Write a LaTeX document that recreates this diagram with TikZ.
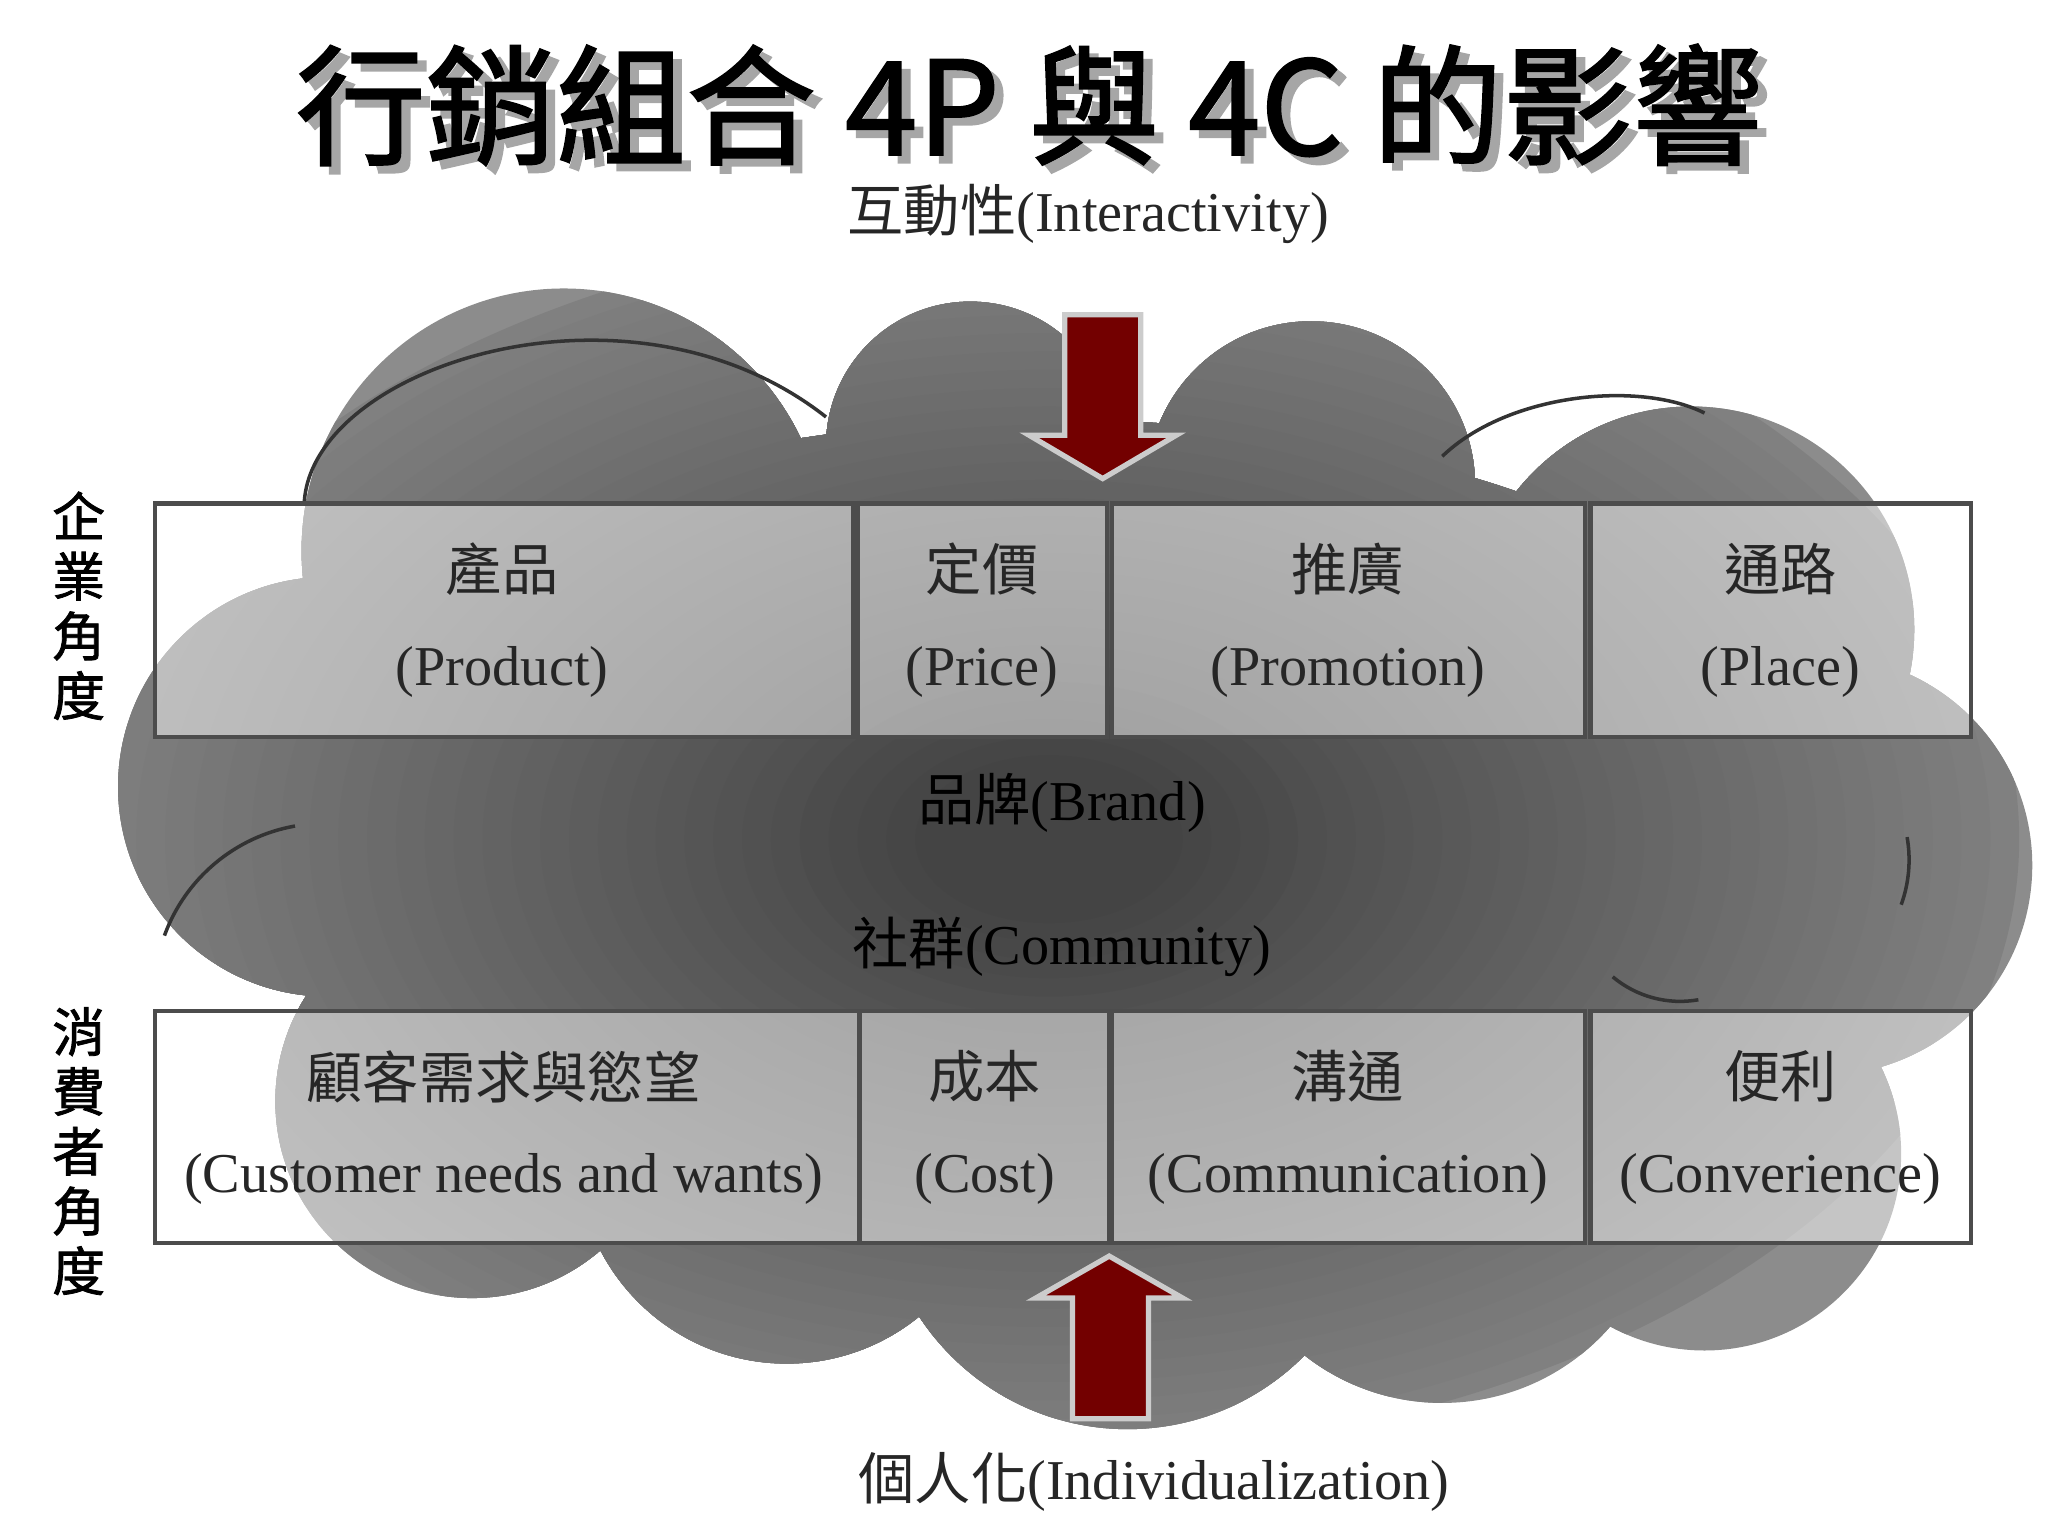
\documentclass[tikz,border=0pt]{standalone}
\usepackage{fontspec}
\setmainfont{Liberation Serif}
\newfontfamily\cjk{Noto Sans CJK TC}
\newfontfamily\cjkb{Noto Sans CJK TC}[FakeBold=1.5]
\usetikzlibrary{fit}
\begin{document}
\begin{tikzpicture}[x=0.01311cm,y=-0.01311cm,
  cell/.style={draw=black!70,line width=1.2pt,fill=white,fill opacity=0.5,inner sep=0pt},
  lbl/.style={font=\fontsize{16}{27}\selectfont,align=center,text=black!85},
  side/.style={font=\cjkb\fontsize{15}{17}\selectfont,align=center},
  arr/.style={fill=red!45!black,draw=black!20,line width=1.5pt}]
\useasboundingbox (0,0) rectangle (1562,1171.6);
% cloud
\def\bumps{(430,420) circle (200) (740,340) circle (110) (1000,370) circle (125)
 (1290,480) circle (170) (1390,660) circle (160) (1300,880) circle (150)
 (880,930) circle (150) (860,900) circle (190) (250,600) circle (160) (360,840) circle (150)
 (1100,900) circle (170) (600,880) circle (160) (800,600) ellipse (600 and 280)}
\fill[black!45] \bumps;
\begin{scope}
\clip \bumps;
\foreach \i in {0,...,29}{
  \pgfmathsetmacro{\c}{50+0.8*\i}
  \fill[black!\c] (800,640) ellipse ({740-22*\i} and {470-14*\i});
}
\end{scope}
\draw[black!80,line width=1pt] (232,385) .. controls (235,280) and (480,200) .. (630,318);
\draw[black!80,line width=1pt] (1100,348) .. controls (1150,300) and (1250,290) .. (1300,315);
\draw[black!80,line width=1pt] (1450,690) arc (20:-10:100);
\draw[black!80,line width=1pt] (225,630) arc (260:200:130);
\draw[black!80,line width=1pt] (1230,745) arc (130:80:80);
% title
\node[font=\cjkb\fontsize{37}{42}\selectfont,text=black!35] at (792,86) {行銷組合 4P 與 4C 的影響};
\node[font=\cjkb\fontsize{37}{42}\selectfont] (title) at (785,80) {行銷組合 4P 與 4C 的影響};
\node[lbl,font=\fontsize{16}{20}\selectfont] (inter) at (830,163) {{\cjk 互動性}(Interactivity)};
\node[lbl,font=\fontsize{16}{20}\selectfont] (indiv) at (880,1130) {{\cjk 個人化}(Individualization)};
% top row
\node[cell,fit={(118,384)(651,562)}] (p1) {};
\node[cell,fit={(654,384)(844,562)}] (p2) {};
\node[cell,fit={(848,384)(1209,562)}] (p3) {};
\node[cell,fit={(1213,384)(1503,562)}] (p4) {};
\node[lbl] at (383,473) {{\cjk 產品}\\(Product)};
\node[lbl] at (749,473) {{\cjk 定價}\\(Price)};
\node[lbl] at (1028,473) {{\cjk 推廣}\\(Promotion)};
\node[lbl] at (1358,473) {{\cjk 通路}\\(Place)};
% bottom row
\node[cell,fit={(118,771)(655,948)}] (c1) {};
\node[cell,fit={(656,771)(846,948)}] (c2) {};
\node[cell,fit={(848,771)(1209,948)}] (c3) {};
\node[cell,fit={(1213,771)(1503,948)}] (c4) {};
\node[lbl] at (384,860) {{\cjk 顧客需求與慾望}\\(Customer needs and wants)};
\node[lbl] at (751,860) {{\cjk 成本}\\(Cost)};
\node[lbl] at (1028,860) {{\cjk 溝通}\\(Communication)};
\node[lbl] at (1358,860) {{\cjk 便利}\\(Converience)};
\node[lbl,font=\fontsize{16}{20}\selectfont,text=black] (brand) at (810,612) {{\cjk 品牌}(Brand)};
\node[lbl,font=\fontsize{16}{20}\selectfont,text=black] (comm) at (810,722) {{\cjk 社群}(Community)};
% side labels
\node[side] (s1) at (60,462) {企\\業\\角\\度};
\node[side] (s2) at (60,878) {消\\費\\者\\角\\度};
% arrows
\coordinate (dtip) at (841,365);
\coordinate (utip) at (846,958);
\draw[arr] (812,240) -- (870,240) -- (870,332) -- (897,332) -- (dtip) -- (785,332) -- (812,332) -- cycle;
\draw[arr] (818,1082) -- (876,1082) -- (876,990) -- (902,990) -- (utip) -- (790,990) -- (818,990) -- cycle;
\end{tikzpicture}
\end{document}
